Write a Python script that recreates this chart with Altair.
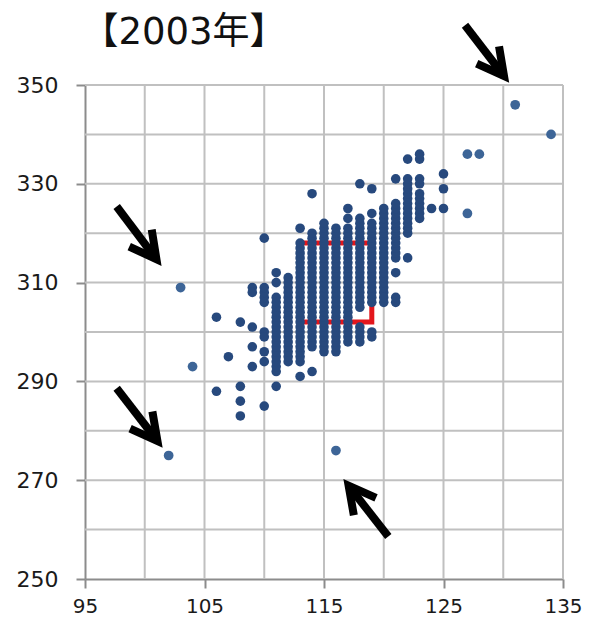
import math
import altair as alt
import pandas as pd

# ---------------- data ----------------
# vertical stacks of points: every integer y from lo to hi at x
run_x  = [110, 111, 112, 113, 114, 115, 116, 117, 118, 118, 119, 120, 121, 122, 123]
run_lo = [306, 292, 294, 294, 297, 296, 296, 298, 298, 305, 306, 308, 315, 320, 323]
run_hi = [309, 307, 311, 318, 320, 322, 321, 321, 301, 323, 322, 325, 326, 331, 328]

# isolated points of the main cloud
single_x = [106, 106, 107, 108, 108, 108, 108, 109, 109, 109, 109, 109, 110, 110, 110, 110, 110, 110,
            111, 111, 111, 113, 113, 114, 114, 117, 117, 118, 119, 119, 119, 119, 120, 120, 121, 121,
            121, 121, 122, 122, 123, 123, 123, 123, 124, 125, 125, 125]
single_y = [303, 288, 295, 302, 289, 286, 283, 309, 308, 301, 297, 293, 319, 300, 299, 296, 294, 285,
            289, 310, 312, 291, 321, 292, 328, 323, 325, 330, 299, 300, 324, 329, 306, 307, 306, 307,
            312, 331, 315, 335, 330, 331, 335, 336, 325, 325, 329, 332]

# outlying points
out_x = [131, 134, 127, 128, 127, 103, 104, 102, 116]
out_y = [346, 340, 336, 336, 324, 309, 293, 275, 276]

# red box
box_x, box_x2, box_y, box_y2 = [113], [119], [302], [318]

# arrows (tail -> tip, data units)
arrow_tail_x = [126.8, 97.65, 97.65, 120.38]
arrow_tail_y = [362.1, 325.4, 288.6, 258.6]
arrow_tip_x  = [130.42, 101.33, 101.42, 116.70]
arrow_tip_y  = [350.7, 313.6, 276.8, 270.0]

# axes
x_grid = [100, 105, 110, 115, 120, 125, 130, 135]
y_grid = [260, 270, 280, 290, 300, 310, 320, 330, 340, 350]
x_ticks = [95, 105, 115, 125, 135]
y_ticks = [250, 270, 290, 310, 330, 350]
X_DOM = [95, 135]
Y_DOM = [250, 350]
title_text = "【2003年】"

# ---------------- build tables ----------------
W, H = 478, 494
LFONT = "DejaVu Sans"
TFONT = "DejaVu Sans, Noto Sans CJK JP"

cx, cy = [], []
for x, lo, hi in zip(run_x, run_lo, run_hi):
    for v in range(lo, hi + 1):
        cx.append(x)
        cy.append(v)
cx += single_x
cy += single_y
cloud = pd.DataFrame({"x": cx, "y": cy})
outl = pd.DataFrame({"x": out_x, "y": out_y})

sx = W / (X_DOM[1] - X_DOM[0])
sy = H / (Y_DOM[1] - Y_DOM[0])


def to_px(x, y):
    return (x - X_DOM[0]) * sx, (Y_DOM[1] - y) * sy


def to_data(px, py):
    return X_DOM[0] + px / sx, Y_DOM[1] - py / sy


rows = []
for i, (tx, ty, px_, py_) in enumerate(zip(arrow_tail_x, arrow_tail_y, arrow_tip_x, arrow_tip_y)):
    T = to_px(tx, ty)
    P = to_px(px_, py_)
    dx, dy = P[0] - T[0], P[1] - T[1]
    L = math.hypot(dx, dy)
    ux, uy = dx / L, dy / L
    V = (P[0] - ux * 7, P[1] - uy * 7)
    bx, by = -ux, -uy
    arms = []
    for ang in (28, -28):
        a = math.radians(ang)
        rx = bx * math.cos(a) - by * math.sin(a)
        ry = bx * math.sin(a) + by * math.cos(a)
        arms.append((V[0] + rx * 30, V[1] + ry * 30))
    for k, pt in enumerate([T, V]):
        d = to_data(*pt)
        rows.append({"path": f"s{i}", "o": k, "x": d[0], "y": d[1]})
    for k, pt in enumerate([arms[0], V, arms[1]]):
        d = to_data(*pt)
        rows.append({"path": f"h{i}", "o": k, "x": d[0], "y": d[1]})
arrows = pd.DataFrame(rows)

xs = alt.Scale(domain=X_DOM, nice=False, zero=False)
ys = alt.Scale(domain=Y_DOM, nice=False, zero=False)

common = dict(format="d", grid=False, title=None,
              domainColor="#8c8c8c", domainWidth=2, tickColor="#8c8c8c", tickWidth=2,
              tickSize=9, labelFont=LFONT,
              labelColor="#1a1a1a", labelFlush=False)
x_axis = alt.Axis(values=x_ticks, labelPadding=8, labelFontSize=20, **common)
y_axis = alt.Axis(values=y_ticks, labelPadding=18, labelFontSize=22, **common)

gx = alt.Chart(pd.DataFrame({"g": x_grid})).mark_rule(color="#c0c0c0", strokeWidth=2).encode(
    x=alt.X("g:Q", scale=xs, axis=x_axis))
gy = alt.Chart(pd.DataFrame({"g": y_grid})).mark_rule(color="#c0c0c0", strokeWidth=2).encode(
    y=alt.Y("g:Q", scale=ys, axis=y_axis))

box = alt.Chart(pd.DataFrame({"x": box_x, "x2": box_x2, "y": box_y, "y2": box_y2})).mark_rect(
    fillOpacity=0, stroke="#e3161c", strokeWidth=5).encode(
    x=alt.X("x:Q", scale=xs), x2="x2:Q", y=alt.Y("y:Q", scale=ys), y2="y2:Q")

pts = alt.Chart(cloud).mark_circle(size=92, color="#27497d", opacity=1).encode(
    x=alt.X("x:Q", scale=xs), y=alt.Y("y:Q", scale=ys))
pts2 = alt.Chart(outl).mark_circle(size=95, color="#3d6597", opacity=1).encode(
    x=alt.X("x:Q", scale=xs), y=alt.Y("y:Q", scale=ys))

arr = alt.Chart(arrows).mark_line(color="black", strokeWidth=8, strokeJoin="miter",
                                  strokeCap="butt").encode(
    x=alt.X("x:Q", scale=xs), y=alt.Y("y:Q", scale=ys), detail="path:N", order="o:Q")

title = alt.Chart(pd.DataFrame({"t": [title_text]})).mark_text(
    font=TFONT, fontSize=37, align="center", baseline="alphabetic", color="#111111").encode(
    text="t:N", x=alt.value(99), y=alt.value(-41))

chart = alt.layer(gx, gy, box, pts, pts2, arr, title).properties(
    width=W, height=H,
    padding={"left": 77, "top": 77, "right": 19, "bottom": 40},
    autosize=alt.AutoSizeParams(type="none"),
).configure_view(strokeWidth=0)

chart.save("out.html", embed_options={"renderer": "svg", "actions": False})
